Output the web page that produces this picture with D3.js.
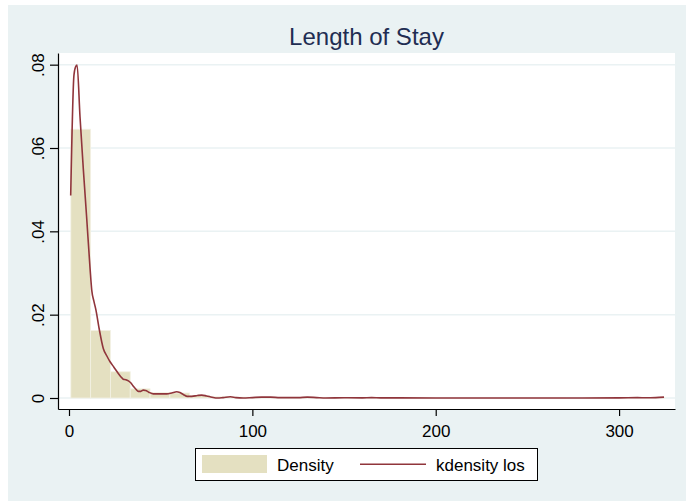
<!DOCTYPE html>
<html>
<head>
<meta charset="utf-8">
<script src="https://cdn.jsdelivr.net/npm/d3@7"></script>
<style>
  body { margin: 0; background: #fff; }
  text { font-family: "Liberation Sans", Arial, sans-serif; }
</style>
</head>
<body>
<svg id="chart" width="686" height="501"></svg>
<script>
// histogram of los, 30 bins
const binStart = 1;
const binWidth = 10.8;
const binDensity = [
  0.0645, 0.0162, 0.0063, 0.0022, 0.0013, 0.0012, 0.0006, 0.0003, 0.0002, 0.0001,
  0.00012, 0.00015, 0.00008, 0.00004, 0.00003, 0.00005, 0.00002, 0.00002, 0.00001, 0.00001,
  0.00001, 0.00001, 0.00001, 0.00001, 0.00001, 0, 0.00001, 0.00001, 0.00002, 0.00004
];

// kernel density estimate
const kdX = [
  0.93, 2.7, 3.6, 4.4, 6, 7.8, 9.6, 11.5, 12.4, 13.6, 14.7, 16.5, 18.7, 20.5, 22.4,
  24.5, 26.9, 28.5, 29.6, 31, 32.4, 33.8, 35.1, 36.5, 37.8, 39.2, 40.5, 41.8, 43.5,
  46, 50, 53.3, 56, 58.7, 60.5, 62.5, 64.5, 67, 70, 72.4, 75, 78, 81, 84, 88, 91, 95,
  100, 105, 110, 115, 120, 125, 130, 135, 140, 150, 160, 165, 170, 180, 200, 220,
  240, 260, 280, 300, 310, 315, 320, 324.5
];
const kdY = [
  0.0486, 0.0775, 0.0795, 0.0799, 0.0675, 0.055, 0.0435, 0.031, 0.0259, 0.0232, 0.0211, 0.0165, 0.0119, 0.0102, 0.0087,
  0.0074, 0.0059, 0.0050, 0.0045, 0.0044, 0.0041, 0.0036, 0.0028, 0.0021, 0.0016, 0.0016, 0.0019, 0.0018, 0.0014,
  0.0010, 0.0010, 0.0010, 0.0012, 0.0015, 0.0013, 0.0008, 0.0004, 0.0004, 0.0006, 0.0007, 0.0005, 0.0002, 0.0000, 0.0001, 0.0003, 0.0001, 0.0000,
  0.0001, 0.0002, 0.0002, 0.0001, 0.0001, 0.0001, 0.0002, 0.0001, 0.0000, 0.00005, 0.00003, 0.0001, 0.00003, 0.00002, 0.00001, 0.00001,
  0.00001, 0.00001, 0.00001, 0.00002, 0.0001, 0.00005, 0.0001, 0.0002
];

const xTicks = [0, 100, 200, 300];
const yTicks = [0, 0.02, 0.04, 0.06, 0.08];
const yTickLabels = ["0", ".02", ".04", ".06", ".08"];
const title = "Length of Stay";
const legendLabels = ["Density", "kdensity los"];

const bgColor = "#eaf2f3";
const barColor = "#e4e0c1";
const lineColor = "#90353b";

const plot = { left: 58, right: 675, top: 53, bottom: 409 };

const svg = d3.select("#chart");

// graph region
svg.append("rect")
  .attr("x", 8).attr("y", 5)
  .attr("width", 678).attr("height", 496)
  .attr("fill", bgColor);

svg.append("rect")
  .attr("x", plot.left).attr("y", plot.top)
  .attr("width", plot.right - plot.left).attr("height", plot.bottom - plot.top)
  .attr("fill", "#fff");

const x = d3.scaleLinear().domain([-6, 330.5]).range([plot.left, plot.right]);
const y = d3.scaleLinear().domain([-0.00264, 0.0828]).range([plot.bottom, plot.top]);

// grid
svg.append("g")
  .selectAll("line")
  .data(yTicks)
  .enter()
  .append("line")
  .attr("x1", plot.left).attr("x2", plot.right)
  .attr("y1", (d) => y(d)).attr("y2", (d) => y(d))
  .attr("stroke", bgColor)
  .attr("stroke-width", 1.5);

// bars
const bins = binDensity.map((d, i) => {
  return { x0: binStart + i * binWidth, x1: binStart + (i + 1) * binWidth, v: d };
});

svg.append("g")
  .selectAll("rect")
  .data(bins)
  .enter()
  .append("rect")
  .attr("x", (d) => x(d.x0))
  .attr("width", (d) => x(d.x1) - x(d.x0))
  .attr("y", (d) => y(d.v))
  .attr("height", (d) => y(0) - y(d.v))
  .attr("fill", barColor)
  .attr("stroke", "#f3f1e4")
  .attr("stroke-width", 0.8);

// density line
const line = d3.line()
  .x((d) => x(d[0]))
  .y((d) => y(d[1]))
  .curve(d3.curveMonotoneX);

svg.append("path")
  .datum(d3.zip(kdX, kdY))
  .attr("d", line)
  .attr("fill", "none")
  .attr("stroke", lineColor)
  .attr("stroke-width", 1.6);

// axes
const yAxis = svg.append("g")
  .attr("transform", `translate(${plot.left},0)`)
  .call(d3.axisLeft(y)
    .tickValues(yTicks)
    .tickFormat((d, i) => yTickLabels[i])
    .tickSize(8)
    .tickSizeOuter(0));

yAxis.selectAll("text")
  .attr("transform", "rotate(-90)")
  .attr("x", 0)
  .attr("y", -14.5)
  .attr("dy", 0)
  .attr("text-anchor", "middle")
  .attr("fill", "#000")
  .style("font-size", "17px");

const xAxis = svg.append("g")
  .attr("transform", `translate(0,${plot.bottom})`)
  .call(d3.axisBottom(x)
    .tickValues(xTicks)
    .tickSize(7)
    .tickSizeOuter(0));

xAxis.selectAll("text")
  .attr("y", 27.5)
  .attr("dy", 0)
  .attr("fill", "#000")
  .style("font-size", "17px");

svg.selectAll(".domain, .tick line")
  .attr("stroke", "#000")
  .attr("stroke-width", 1.2);
svg.selectAll(".tick text").attr("font-family", null);

// title
svg.append("text")
  .attr("x", (plot.left + plot.right) / 2)
  .attr("y", 45)
  .attr("text-anchor", "middle")
  .attr("fill", "#1f2d52")
  .style("font-size", "24px")
  .text(title);

// legend
const legend = svg.append("g");
legend.append("rect")
  .attr("x", 195.5).attr("y", 448.5)
  .attr("width", 342).attr("height", 32)
  .attr("fill", "#fff")
  .attr("stroke", "#000")
  .attr("stroke-width", 1);
legend.append("rect")
  .attr("x", 202).attr("y", 455)
  .attr("width", 65).attr("height", 18)
  .attr("fill", barColor);
legend.append("line")
  .attr("x1", 360).attr("x2", 426)
  .attr("y1", 464.3).attr("y2", 464.3)
  .attr("stroke", lineColor)
  .attr("stroke-width", 1.6);
legend.selectAll("text")
  .data(legendLabels)
  .enter()
  .append("text")
  .attr("x", (d, i) => (i === 0 ? 277 : 436))
  .attr("y", 470.7)
  .attr("fill", "#000")
  .style("font-size", "17px")
  .text((d) => d);
</script>
</body>
</html>
